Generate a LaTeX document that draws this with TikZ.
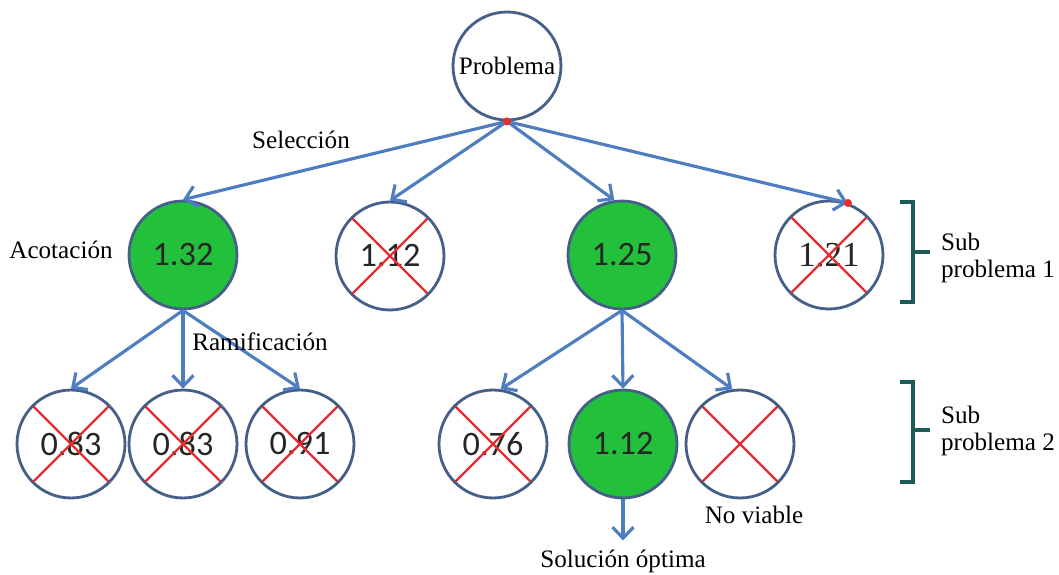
\documentclass[tikz,border=0pt]{standalone}
\usepackage{fontspec}
\setmainfont{Liberation Serif}
\newfontfamily\numfont{Carlito}
\usetikzlibrary{arrows.meta,positioning}

\definecolor{ringblue}{RGB}{68,96,136}
\definecolor{arrowblue}{RGB}{79,126,192}
\definecolor{okgreen}{RGB}{35,192,60}
\definecolor{crossred}{RGB}{232,45,50}
\definecolor{bracketteal}{RGB}{30,90,90}

\begin{document}
\begin{tikzpicture}
[x=0.02cm, y=-0.02cm, font=\fontsize{14.3}{15.5}\selectfont,
>={Straight Barb[length=2.2mm,width=4.2mm]},
bnode/.style={circle, draw=ringblue, line width=1.6pt, minimum size=2.16cm, inner sep=0pt, fill=white},
okbnode/.style={bnode, fill=okgreen},
val/.style={font=\numfont\fontsize{19.5}{19.5}\selectfont, text=black!85},
edge/.style={->, draw=arrowblue, line width=1.8pt},
xline/.style={draw=crossred, line width=1.25pt, shorten >=1.5pt, shorten <=1.5pt},
bracket/.style={draw=bracketteal, line width=2.3pt},
lbl/.style={inner sep=1pt}]

\useasboundingbox (0,0) rectangle (1059,575);

% root and first level
\node[bnode] (root) at (507,66) {Problema};
\node[okbnode,val] (s1) at (183,255) {1.32};
\node[bnode,val]   (s2) at (390,256) {1.12};
\node[okbnode,val] (s3) at (622,255) {1.25};
\node[bnode,font=\rmfamily\fontsize{20}{20}\selectfont,text=black!85] (s4) at (829,255) {1.21};

% second level
\node[bnode,val]   (t1) at (71,444)  {0.83};
\node[bnode,val]   (t2) at (183,444) {0.83};
\node[bnode,val]   (t3) at (300,444) {0.91};
\node[bnode,val]   (t4) at (493,444) {0.76};
\node[okbnode,val] (t5) at (623,444) {1.12};
\node[bnode]       (t6) at (740,444) {};

% pruned nodes
\foreach \n in {s2,s4,t1,t2,t3,t4,t6} {
  \draw[xline] (\n.135) -- (\n.-45);
  \draw[xline] (\n.45) -- (\n.-135);
}

\draw[edge] (root.south) -- (s1.north);
\draw[edge] (root.south) -- (s2.north);
\draw[edge] (root.south) -- (s3.98);
\draw[edge] (root.south) -- (s4.70);

\foreach \c in {t1,t2,t3}
  \draw[edge] (s1.south) -- (\c.north);
\draw[edge] (s3.south) -- (t4.82);
\draw[edge] (s3.south) -- (t5.north);
\draw[edge] (s3.south) -- (t6.98);

\fill[crossred] (root.south) circle (0.08cm);
\fill[crossred] (s4.70) circle (0.08cm);

% labels
\node[lbl] (sel) at (301,140) {Selección};
\node[lbl] (aco) at (61,250) {Acotación};
\node[lbl] (ram) at (260,342) {Ramificación};
\node[lbl] (nov) at (754,515) {No viable};
\node[lbl] (sol) at (623,561) {Solución óptima};
\draw[edge, shorten >=4pt] (t5.south) -- (sol.north);

\node[lbl, anchor=west, align=left] (sub1) at (939,258) {Sub\\problema 1};
\node[lbl, anchor=west, align=left] (sub2) at (939,431) {Sub\\problema 2};

% brackets
\draw[bracket] (900,202) -- (913,202) -- (913,302) -- (900,302);
\draw[bracket] (913,252) -- (930,252);
\draw[bracket] (900,382) -- (913,382) -- (913,482) -- (900,482);
\draw[bracket] (913,430) -- (930,430);
\end{tikzpicture}
\end{document}
